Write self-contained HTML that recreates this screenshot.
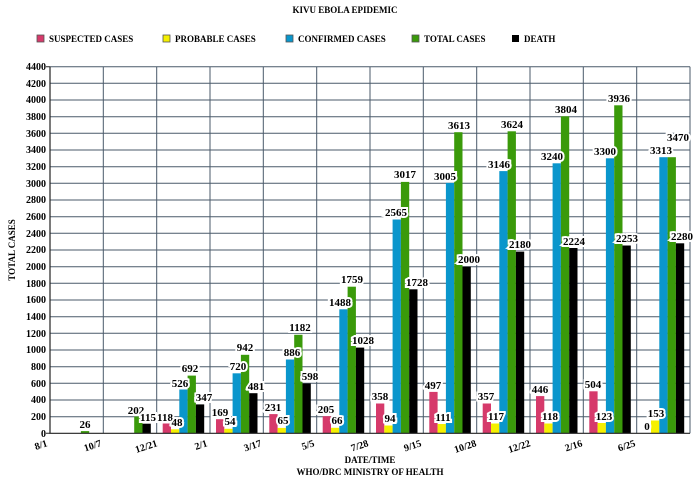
<!DOCTYPE html>
<html><head><meta charset="utf-8"><style>
html,body{margin:0;padding:0;background:#fff;width:700px;height:485px;overflow:hidden}
svg{display:block;font-family:"Liberation Serif",serif;font-weight:bold}
.l{font-size:11px;text-anchor:middle;paint-order:stroke;stroke:#fff;stroke-width:4px;stroke-linejoin:miter;fill:#000}
.y{font-size:10px;text-anchor:end}
.x{font-size:10px;text-anchor:end}
</style></head><body>
<svg width="700" height="485" viewBox="0 0 700 485">
<text x="345" y="13" font-size="9" text-anchor="middle">KIVU EBOLA EPIDEMIC</text>
<g font-size="9">
<rect x="37" y="35" width="7" height="7" fill="#d63a6b" stroke="#555" stroke-width="0.8"/><text x="49" y="42">SUSPECTED CASES</text>
<rect x="163" y="35" width="7" height="7" fill="#f5f000" stroke="#555" stroke-width="0.8"/><text x="175" y="42">PROBABLE CASES</text>
<rect x="286" y="35" width="7" height="7" fill="#0a96cc" stroke="#555" stroke-width="0.8"/><text x="298" y="42">CONFIRMED CASES</text>
<rect x="412" y="35" width="7" height="7" fill="#3a9a0a" stroke="#555" stroke-width="0.8"/><text x="424" y="42">TOTAL CASES</text>
<rect x="512" y="35" width="7" height="7" fill="#000"/><text x="524" y="42">DEATH</text>
</g>
<g stroke="#4a5a6a" stroke-width="1">
<path d="M50 66.7H690M50 83.3H690M50 100H690M50 116.7H690M50 133.3H690M50 150H690M50 166.7H690M50 183.3H690M50 200H690M50 216.7H690M50 233.3H690M50 250H690M50 266.7H690M50 283.3H690M50 300H690M50 316.7H690M50 333.3H690M50 350H690M50 366.7H690M50 383.3H690M50 400H690M50 416.7H690"/>
<path d="M103.3 66.7V433.3M156.7 66.7V433.3M210 66.7V433.3M263.3 66.7V433.3M316.7 66.7V433.3M370 66.7V433.3M423.3 66.7V433.3M476.7 66.7V433.3M530 66.7V433.3M583.3 66.7V433.3M636.7 66.7V433.3M690 66.7V433.3"/>
</g>
<g class="y">
<text x="46" y="70">4400</text><text x="46" y="87">4200</text><text x="46" y="103">4000</text><text x="46" y="120">3800</text><text x="46" y="137">3600</text><text x="46" y="153">3400</text><text x="46" y="170">3200</text><text x="46" y="187">3000</text><text x="46" y="203">2800</text><text x="46" y="220">2600</text><text x="46" y="237">2400</text><text x="46" y="253">2200</text><text x="46" y="270">2000</text><text x="46" y="287">1800</text><text x="46" y="303">1600</text><text x="46" y="320">1400</text><text x="46" y="337">1200</text><text x="46" y="353">1000</text><text x="46" y="370">800</text><text x="46" y="387">600</text><text x="46" y="403">400</text><text x="46" y="420">200</text><text x="46" y="437">0</text>
</g>
<!-- bars -->
<g>
<rect x="80.9" y="431.1" width="8.3" height="2.2" fill="#3a9a0a"/>
<rect x="134.2" y="416.5" width="8.3" height="16.8" fill="#3a9a0a"/><rect x="142.5" y="423.7" width="8.3" height="9.6" fill="#000"/>
<rect x="162.7" y="423.5" width="8.3" height="9.8" fill="#d63a6b"/><rect x="171" y="429.3" width="8.3" height="4" fill="#f5f000"/><rect x="179.3" y="389.5" width="8.3" height="43.8" fill="#0a96cc"/><rect x="187.6" y="375.6" width="8.3" height="57.7" fill="#3a9a0a"/><rect x="195.9" y="404.4" width="8.3" height="28.9" fill="#000"/>
<rect x="216" y="419.2" width="8.3" height="14.1" fill="#d63a6b"/><rect x="224.3" y="428.8" width="8.3" height="4.5" fill="#f5f000"/><rect x="232.6" y="373.3" width="8.3" height="60" fill="#0a96cc"/><rect x="240.9" y="354.8" width="8.3" height="78.5" fill="#3a9a0a"/><rect x="249.2" y="393.2" width="8.3" height="40.1" fill="#000"/>
<rect x="269.3" y="414.1" width="8.3" height="19.2" fill="#d63a6b"/><rect x="277.6" y="427.9" width="8.3" height="5.4" fill="#f5f000"/><rect x="285.9" y="359.5" width="8.3" height="73.8" fill="#0a96cc"/><rect x="294.2" y="334.8" width="8.3" height="98.5" fill="#3a9a0a"/><rect x="302.5" y="383.5" width="8.3" height="49.8" fill="#000"/>
<rect x="322.7" y="416.2" width="8.3" height="17.1" fill="#d63a6b"/><rect x="331" y="427.8" width="8.3" height="5.5" fill="#f5f000"/><rect x="339.3" y="309.3" width="8.3" height="124" fill="#0a96cc"/><rect x="347.6" y="286.7" width="8.3" height="146.6" fill="#3a9a0a"/><rect x="355.9" y="347.6" width="8.3" height="85.7" fill="#000"/>
<rect x="376" y="403.5" width="8.3" height="29.8" fill="#d63a6b"/><rect x="384.3" y="425.5" width="8.3" height="7.8" fill="#f5f000"/><rect x="392.6" y="219.5" width="8.3" height="213.8" fill="#0a96cc"/><rect x="400.9" y="181.9" width="8.3" height="251.4" fill="#3a9a0a"/><rect x="409.2" y="289.3" width="8.3" height="144" fill="#000"/>
<rect x="429.3" y="391.9" width="8.3" height="41.4" fill="#d63a6b"/><rect x="437.6" y="424" width="8.3" height="9.3" fill="#f5f000"/><rect x="445.9" y="182.9" width="8.3" height="250.4" fill="#0a96cc"/><rect x="454.2" y="132.2" width="8.3" height="301.1" fill="#3a9a0a"/><rect x="462.5" y="266.6" width="8.3" height="166.7" fill="#000"/>
<rect x="482.7" y="403.5" width="8.3" height="29.8" fill="#d63a6b"/><rect x="491" y="423.5" width="8.3" height="9.8" fill="#f5f000"/><rect x="499.3" y="171.1" width="8.3" height="262.2" fill="#0a96cc"/><rect x="507.6" y="131.3" width="8.3" height="302" fill="#3a9a0a"/><rect x="515.9" y="251.6" width="8.3" height="181.7" fill="#000"/>
<rect x="536" y="396.1" width="8.3" height="37.2" fill="#d63a6b"/><rect x="544.3" y="423.5" width="8.3" height="9.8" fill="#f5f000"/><rect x="552.6" y="163.3" width="8.3" height="270" fill="#0a96cc"/><rect x="560.9" y="116.3" width="8.3" height="317" fill="#3a9a0a"/><rect x="569.2" y="248" width="8.3" height="185.3" fill="#000"/>
<rect x="589.3" y="391.3" width="8.3" height="42" fill="#d63a6b"/><rect x="597.6" y="423" width="8.3" height="10.3" fill="#f5f000"/><rect x="605.9" y="158.3" width="8.3" height="275" fill="#0a96cc"/><rect x="614.2" y="105.3" width="8.3" height="328" fill="#3a9a0a"/><rect x="622.5" y="245.5" width="8.3" height="187.8" fill="#000"/>
<rect x="651" y="420.5" width="8.3" height="12.8" fill="#f5f000"/><rect x="659.3" y="157.2" width="8.3" height="276.1" fill="#0a96cc"/><rect x="667.6" y="157.2" width="8.3" height="276.1" fill="#3a9a0a"/><rect x="675.9" y="243.3" width="8.3" height="190" fill="#000"/>
</g>
<!-- labels -->
<g class="l">
<text x="85" y="428">26</text>
<text x="136" y="414">202</text><text x="148" y="421">115</text>
<text x="165" y="421">118</text><text x="177" y="426">48</text><text x="180" y="387">526</text><text x="190" y="372">692</text><text x="204" y="401">347</text>
<text x="220" y="416">169</text><text x="230" y="425">54</text><text x="238" y="370">720</text><text x="245" y="351">942</text><text x="256" y="390">481</text>
<text x="273" y="411">231</text><text x="283" y="424">65</text><text x="292" y="356">886</text><text x="300" y="331">1182</text><text x="310" y="380">598</text>
<text x="326" y="413">205</text><text x="337" y="424">66</text><text x="340" y="306">1488</text><text x="352" y="283">1759</text><text x="363" y="344">1028</text>
<text x="380" y="400">358</text><text x="390" y="422">94</text><text x="396" y="216">2565</text><text x="405" y="178">3017</text><text x="417" y="286">1728</text>
<text x="433" y="389">497</text><text x="443" y="421">111</text><text x="445" y="180">3005</text><text x="459" y="129">3613</text><text x="469" y="263">2000</text>
<text x="486" y="400">357</text><text x="496" y="420">117</text><text x="499" y="168">3146</text><text x="512" y="128">3624</text><text x="520" y="248">2180</text>
<text x="540" y="393">446</text><text x="550" y="420">118</text><text x="552" y="160">3240</text><text x="566" y="113">3804</text><text x="574" y="245">2224</text>
<text x="593" y="388">504</text><text x="604" y="420">123</text><text x="605" y="155">3300</text><text x="619" y="102">3936</text><text x="627" y="242">2253</text>
<text x="647" y="430">0</text><text x="656" y="417">153</text><text x="661" y="154">3313</text><text x="678" y="141">3470</text><text x="682" y="240">2280</text>
</g>
<path d="M50 66.7V433.3H690" fill="none" stroke="#222" stroke-width="1.2"/>
<g stroke="#222"><path d="M46 66.7H50M46 433.3H50"/></g>
<g class="x">
<text transform="translate(48 446) rotate(-18)">8/1</text>
<text transform="translate(102 446) rotate(-18)">10/7</text>
<text transform="translate(158 446) rotate(-18)">12/21</text>
<text transform="translate(208 446) rotate(-18)">2/1</text>
<text transform="translate(262 446) rotate(-18)">3/17</text>
<text transform="translate(315 446) rotate(-18)">5/5</text>
<text transform="translate(369 446) rotate(-18)">7/28</text>
<text transform="translate(422 446) rotate(-18)">9/15</text>
<text transform="translate(477 446) rotate(-18)">10/28</text>
<text transform="translate(531 446) rotate(-18)">12/22</text>
<text transform="translate(583 446) rotate(-18)">2/16</text>
<text transform="translate(636 446) rotate(-18)">6/25</text>
</g>
<text x="370" y="463" font-size="9" text-anchor="middle">DATE/TIME</text>
<text x="370" y="475" font-size="9" text-anchor="middle">WHO/DRC MINISTRY OF HEALTH</text>
<text transform="translate(15 250) rotate(-90)" font-size="9" text-anchor="middle">TOTAL CASES</text>
</svg>
</body></html>
